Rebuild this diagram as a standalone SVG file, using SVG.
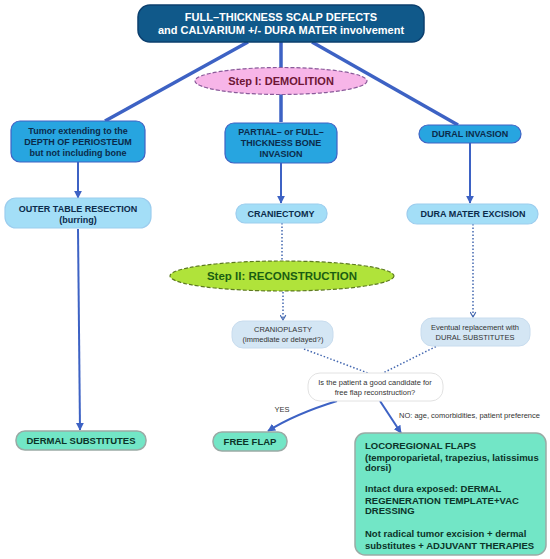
<svg xmlns="http://www.w3.org/2000/svg" width="550" height="559" viewBox="0 0 550 559">
<defs>
<marker id="ah" viewBox="0 0 10 10" refX="9" refY="5" markerWidth="4" markerHeight="4" orient="auto" markerUnits="strokeWidth">
<path d="M0,0 L10,5 L0,10 Z" fill="#3d62c4"/>
</marker>
<marker id="chev" viewBox="0 0 10 10" refX="8" refY="5" markerWidth="7" markerHeight="7" orient="auto" markerUnits="userSpaceOnUse">
<path d="M1,1 L8,5 L1,9" fill="none" stroke="#4468b0" stroke-width="1.6"/>
</marker>
</defs>
<style>
text{font-family:"Liberation Sans",Arial,sans-serif;}
.thick{stroke:#3d62c4;stroke-width:3.5;fill:none;}
.solid{stroke:#3d62c4;stroke-width:2;fill:none;}
.dot{stroke:#4468b0;stroke-width:1.5;stroke-dasharray:1.5 2;fill:none;}
.top{fill:#10598a;stroke:#0b3f6e;stroke-width:1.5;}
.r1{fill:#27a5e0;stroke:#3f62c4;stroke-width:1.2;}
.r2{fill:#a3def7;stroke:#9ccdee;stroke-width:1.2;}
.lt{fill:#d4e6f4;stroke:#c8dcee;stroke-width:1;}
.q{fill:#ffffff;stroke:#e2e2e2;stroke-width:1;}
.tl{fill:#72e6c6;stroke:#9aaaa5;stroke-width:1.5;}
.tb{font-weight:bold;font-size:9px;fill:#0b2b4b;text-anchor:middle;}
.tw{font-weight:bold;font-size:11px;fill:#ffffff;text-anchor:middle;}
.ts{font-size:7.5px;fill:#333333;text-anchor:middle;}
.tg{font-weight:bold;font-size:9.5px;fill:#0c3328;}
</style>
<rect width="550" height="559" fill="#ffffff"/>
<g id="connectors">
<line class="thick" x1="248" y1="42" x2="105" y2="121"/>
<line class="thick" x1="281" y1="42" x2="281" y2="122"/>
<line class="thick" x1="312" y1="42" x2="458" y2="125"/>
<line class="solid" x1="78" y1="162" x2="78" y2="198" marker-end="url(#ah)"/>
<line class="solid" x1="281" y1="163" x2="281" y2="203" marker-end="url(#ah)"/>
<line class="solid" x1="470" y1="143" x2="470" y2="203" marker-end="url(#ah)"/>
<line class="solid" x1="78" y1="229" x2="80" y2="430" marker-end="url(#ah)"/>
<line class="dot" x1="282" y1="223" x2="282" y2="262"/>
<line class="dot" x1="283" y1="292" x2="283" y2="320" marker-end="url(#chev)"/>
<line class="dot" x1="473" y1="224" x2="473" y2="317" marker-end="url(#chev)"/>
<line class="dot" x1="304" y1="349" x2="368" y2="373"/>
<line class="dot" x1="439" y1="345" x2="383" y2="373"/>
<path class="solid" d="M337,401 Q295,414 268,431" marker-end="url(#ah)"/>
<line class="solid" x1="380" y1="401" x2="401" y2="433" marker-end="url(#ah)"/>
<text x="282" y="412" class="ts">YES</text>
<text x="399" y="418" class="ts" style="text-anchor:start">NO: age, comorbidities, patient preference</text>
</g>
<g id="n_top">
<rect class="top" x="138" y="5" width="286" height="37" rx="12"/>
<text class="tw" x="281" y="21">FULL–THICKNESS SCALP DEFECTS</text>
<text class="tw" x="281" y="34">and CALVARIUM +/- DURA MATER involvement</text>
</g>
<g id="n_step1">
<ellipse cx="281" cy="81" rx="86" ry="13.5" fill="#f7b5e8" stroke="#8a5a9a" stroke-width="1.2" stroke-dasharray="4 2"/>
<text x="281" y="85" style="font-weight:bold;font-size:11px;fill:#6e1535;text-anchor:middle">Step I: DEMOLITION</text>
</g>
<g id="n_periosteum">
<rect class="r1" x="11" y="121" width="134" height="41" rx="9"/>
<text class="tb" x="78" y="134">Tumor extending to the</text>
<text class="tb" x="78" y="145">DEPTH OF PERIOSTEUM</text>
<text class="tb" x="78" y="156">but not including bone</text>
</g>
<g id="n_bone">
<rect class="r1" x="225" y="123" width="112" height="40" rx="9"/>
<text class="tb" x="281" y="135">PARTIAL– or FULL–</text>
<text class="tb" x="281" y="146">THICKNESS BONE</text>
<text class="tb" x="281" y="157">INVASION</text>
</g>
<g id="n_dural">
<rect class="r1" x="419" y="125" width="102" height="18" rx="9"/>
<text class="tb" x="470" y="137">DURAL INVASION</text>
</g>
<g id="n_outer">
<rect class="r2" x="5" y="198" width="146" height="30" rx="11"/>
<text class="tb" x="78" y="212">OUTER TABLE RESECTION</text>
<text class="tb" x="78" y="223">(burring)</text>
</g>
<g id="n_craniectomy">
<rect class="r2" x="236" y="204" width="91" height="19" rx="9"/>
<text class="tb" x="281" y="217">CRANIECTOMY</text>
</g>
<g id="n_duraexc">
<rect class="r2" x="407" y="204" width="131" height="20" rx="10"/>
<text class="tb" x="473" y="217">DURA MATER EXCISION</text>
</g>
<g id="n_step2">
<ellipse cx="282" cy="276" rx="112" ry="15" fill="#b0e33a" stroke="#5d7a20" stroke-width="1.2" stroke-dasharray="4 2"/>
<text x="282" y="280" style="font-weight:bold;font-size:11.5px;fill:#1a5e12;text-anchor:middle">Step II: RECONSTRUCTION</text>
</g>
<g id="n_cranioplasty">
<rect class="lt" x="232" y="321" width="101" height="27" rx="11"/>
<text class="ts" x="283" y="332">CRANIOPLASTY</text>
<text class="ts" x="283" y="342">(immediate or delayed?)</text>
</g>
<g id="n_eventual">
<rect class="lt" x="421" y="318" width="109" height="28" rx="11"/>
<text class="ts" x="475" y="330">Eventual replacement with</text>
<text class="ts" x="475" y="340">DURAL SUBSTITUTES</text>
</g>
<g id="n_question">
<rect class="q" x="308" y="373" width="135" height="28" rx="12"/>
<text class="ts" x="375" y="385">Is the patient a good candidate for</text>
<text class="ts" x="375" y="395">free flap reconstruction?</text>
</g>
<g id="n_dermal">
<rect class="tl" x="16" y="431" width="130" height="19" rx="9"/>
<text class="tb" x="81" y="444" style="fill:#0c3328;font-size:9.5px">DERMAL SUBSTITUTES</text>
</g>
<g id="n_freeflap">
<rect class="tl" x="213" y="432" width="74" height="19" rx="9"/>
<text class="tb" x="250" y="445" style="fill:#0c3328;font-size:9.5px">FREE FLAP</text>
</g>
<g id="n_locoregional">
<rect class="tl" x="355" y="433" width="191" height="122" rx="10"/>
<text class="tg" x="365" y="449">LOCOREGIONAL FLAPS</text>
<text class="tg" x="365" y="460.5">(temporoparietal, trapezius, latissimus</text>
<text class="tg" x="365" y="471">dorsi)</text>
<text class="tg" x="365" y="492">Intact dura exposed: DERMAL</text>
<text class="tg" x="365" y="503.5">REGENERATION TEMPLATE+VAC</text>
<text class="tg" x="365" y="514">DRESSING</text>
<text class="tg" x="365" y="537">Not radical tumor excision + dermal</text>
<text class="tg" x="365" y="548.5">substitutes + ADJUVANT THERAPIES</text>
</g>
</svg>
